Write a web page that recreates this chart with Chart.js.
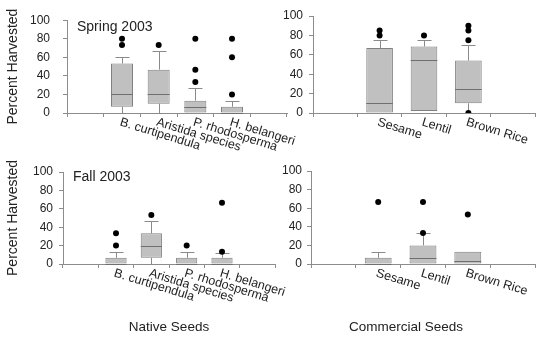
<!DOCTYPE html>
<html>
<head>
<meta charset="utf-8">
<script src="https://cdn.jsdelivr.net/npm/chart.js@4/dist/chart.umd.min.js"></script>
<style>
  html, body { margin: 0; padding: 0; background: #fff; }
  #wrap { position: relative; width: 544px; height: 339px; overflow: hidden; }
  #wrap canvas { position: absolute; left: 0; top: 0; }
  .group { position: absolute; top: 319px; transform: translateX(-50%); white-space: nowrap;
           font: 13.5px "Liberation Sans", Arial, sans-serif; color: #222; }
</style>
</head>
<body>
<div id="wrap">
  <canvas id="springNative" width="544" height="339"></canvas>
  <canvas id="springCommercial" width="544" height="339"></canvas>
  <canvas id="fallNative" width="544" height="339"></canvas>
  <canvas id="fallCommercial" width="544" height="339"></canvas>
  <div class="group" style="left:169px">Native Seeds</div>
  <div class="group" style="left:406px">Commercial Seeds</div>
</div>
<script>
'use strict';

// categories
const nativeSeeds = ['B. curtipendula', 'Aristida species', 'P. rhodosperma', 'H. belangeri'];
const commercialSeeds = ['Sesame', 'Lentil', 'Brown Rice'];

// Spring 2003, native seeds (percent harvested)
const springNativeLow = [0, 0, 0, 0];
const springNativeQ1 = [6.7, 10, 0, 0];
const springNativeMedian = [20, 20, 6.7, 0];
const springNativeQ3 = [53.3, 46.7, 13.3, 6.7];
const springNativeHigh = [60, 66.7, 26.7, 13.3];
const springNativeOutliers = [[73.3, 80], [73.3], [33.3, 46.7, 80], [20, 60, 80]];

// Spring 2003, commercial seeds
const springCommLow = [0, 2, 0];
const springCommQ1 = [0, 2, 10];
const springCommMedian = [10, 55, 25];
const springCommQ3 = [67, 68.5, 54];
const springCommHigh = [75, 75, 70];
const springCommOutliers = [[80, 85], [80], [0, 75, 85, 90]];

// Fall 2003, native seeds
const fallNativeLow = [0, 0, 0, 0];
const fallNativeQ1 = [0, 6.7, 0, 0];
const fallNativeMedian = [0, 20, 0, 0];
const fallNativeQ3 = [6.7, 33.3, 6.7, 6.7];
const fallNativeHigh = [13.3, 46.7, 13.3, 12];
const fallNativeOutliers = [[20, 33.3], [53.3], [20], [13.3, 66.7]];

// Fall 2003, commercial seeds
const fallCommLow = [0, 0, 0];
const fallCommQ1 = [0, 0, 0];
const fallCommMedian = [0, 6.7, 3.3];
const fallCommQ3 = [6.7, 20, 13.3];
const fallCommHigh = [13.3, 33.3, 13.3];
const fallCommOutliers = [[66.7], [33.3, 66.7], [53.3]];

const FONT = '"Liberation Sans", Arial, sans-serif';
const AXIS = '#8c8c8c';
const TEXT = '#222';

// whiskers, medians, slanted category names and the season note
const boxExtras = {
  id: 'boxExtras',
  beforeDatasetsDraw(chart, args, o) {
    const { ctx, scales: { x, y } } = chart;
    ctx.save();
    ctx.strokeStyle = '#8a8a8a';
    ctx.lineWidth = 1;
    o.high.forEach((h, i) => {
      const px = Math.round(x.getPixelForValue(i + 1)) + 0.5;
      const seg = (from, to) => {
        if (to === from) return;
        const y0 = y.getPixelForValue(from), y1 = Math.round(y.getPixelForValue(to)) + 0.5;
        ctx.beginPath();
        ctx.moveTo(px, y0); ctx.lineTo(px, y1);
        ctx.moveTo(px - 7, y1); ctx.lineTo(px + 7, y1);
        ctx.stroke();
      };
      seg(o.q3[i], h);
      seg(o.q1[i], o.low[i]);
    });
    ctx.restore();
  },
  afterDatasetsDraw(chart, args, o) {
    const { ctx, scales: { y } } = chart;
    const bars = chart.getDatasetMeta(0).data;
    ctx.save();
    ctx.strokeStyle = '#6f6f6f';
    ctx.lineWidth = 1;
    o.median.forEach((m, i) => {
      const b = bars[i];
      const py = Math.round(y.getPixelForValue(m)) + 0.5;
      ctx.beginPath();
      ctx.moveTo(b.x - b.width / 2, py); ctx.lineTo(b.x + b.width / 2, py);
      ctx.stroke();
    });
    ctx.restore();
  },
  afterDraw(chart, args, o) {
    const { ctx, chartArea, scales: { x } } = chart;
    ctx.save();
    ctx.fillStyle = TEXT;
    ctx.font = '12.5px ' + FONT;
    ctx.textAlign = 'left';
    ctx.textBaseline = 'top';
    o.labels.forEach((name, i) => {
      ctx.save();
      ctx.translate(x.getPixelForValue(i + 1), chartArea.bottom + 3);
      ctx.rotate(17 * Math.PI / 180);
      ctx.fillText(name, 0, 0);
      ctx.restore();
    });
    if (o.note) {
      ctx.font = '14px ' + FONT;
      ctx.fillText(o.note, chartArea.left + 10, chartArea.top + o.noteDy);
    }
    ctx.restore();
  }
};

function boxPanel(id, labels, low, q1, median, q3, high, outliers, g) {
  const boxes = labels.map((_, i) => ({ x: i + 1, y: [q1[i], q3[i]] }));
  const dots = [];
  outliers.forEach((list, i) => list.forEach(v => dots.push({ x: i + 1, y: v })));

  return new Chart(document.getElementById(id), {
    type: 'bar',
    data: {
      datasets: [
        {
          data: boxes,
          backgroundColor: '#c0c0c0',
          borderColor: '#808080',
          borderWidth: 1,
          borderSkipped: false,
          barPercentage: 0.6,
          categoryPercentage: 1,
          grouped: false
        },
        {
          type: 'scatter',
          data: dots,
          pointRadius: 3,
          pointBackgroundColor: '#000',
          pointBorderWidth: 0
        }
      ]
    },
    options: {
      responsive: false,
      animation: false,
      devicePixelRatio: 1,
      layout: { padding: { left: g.padL, right: g.padR, top: g.padT, bottom: g.padB } },
      plugins: {
        legend: { display: false },
        tooltip: { enabled: false },
        boxExtras: { labels, low, q1, median, q3, high, note: g.note, noteDy: g.noteDy }
      },
      scales: {
        x: {
          type: 'linear',
          min: 0,
          max: labels.length + 1,
          afterFit: s => { s.height = 10; },
          ticks: { stepSize: 1, display: false },
          grid: { drawOnChartArea: false, tickLength: 4, color: AXIS },
          border: { color: AXIS }
        },
        y: {
          min: 0,
          max: 100,
          afterFit: s => { s.width = g.yW; },
          ticks: { stepSize: 20, color: TEXT, padding: g.tickPad, font: { size: 12, family: FONT } },
          grid: { drawOnChartArea: false, tickLength: 4, color: AXIS },
          border: { color: AXIS },
          title: {
            display: g.title,
            text: 'Percent Harvested',
            color: TEXT,
            padding: 0,
            font: { size: 14, family: FONT }
          }
        }
      }
    },
    plugins: [boxExtras]
  });
}

boxPanel('springNative', nativeSeeds, springNativeLow, springNativeQ1, springNativeMedian,
  springNativeQ3, springNativeHigh, springNativeOutliers,
  { padL: 5, padR: 257, padT: 15, padB: 216, yW: 62, tickPad: 13, title: true, note: 'Spring 2003', noteDy: 0 });

boxPanel('springCommercial', commercialSeeds, springCommLow, springCommQ1, springCommMedian,
  springCommQ3, springCommHigh, springCommOutliers,
  { padL: 273, padR: 9, padT: 16, padB: 216, yW: 40, tickPad: 6, title: false });

boxPanel('fallNative', nativeSeeds, fallNativeLow, fallNativeQ1, fallNativeMedian,
  fallNativeQ3, fallNativeHigh, fallNativeOutliers,
  { padL: 5, padR: 269, padT: 172, padB: 65, yW: 58, tickPad: 6, title: true, note: 'Fall 2003', noteDy: -2 });

boxPanel('fallCommercial', commercialSeeds, fallCommLow, fallCommQ1, fallCommMedian,
  fallCommQ3, fallCommHigh, fallCommOutliers,
  { padL: 271, padR: 9, padT: 171, padB: 65, yW: 40, tickPad: 5, title: false });
</script>
</body>
</html>
